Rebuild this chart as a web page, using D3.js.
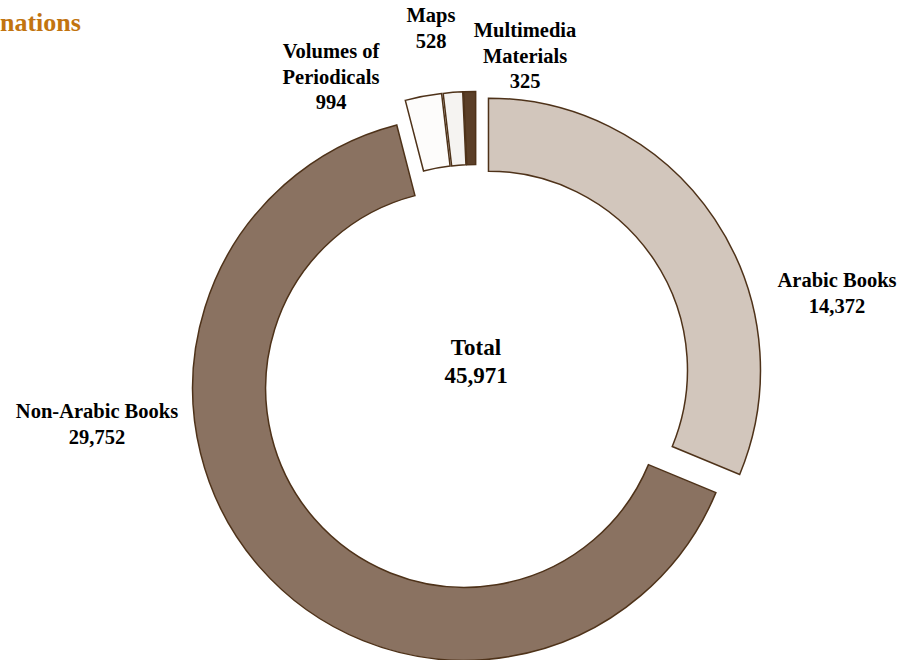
<!DOCTYPE html>
<html>
<head>
<meta charset="utf-8">
<script src="https://cdn.jsdelivr.net/npm/d3@7"></script>
<style>
  body { margin: 0; background: #fff; }
  text { font-family: "Liberation Serif", "Times New Roman", serif; font-weight: bold; }
</style>
</head>
<body>
<script>
// data
var categories = ["Arabic Books", "Non-Arabic Books", "Volumes of Periodicals", "Maps", "Multimedia Materials"];
var values = [14372, 29752, 994, 528, 325];
var labelLines = [["Arabic Books"], ["Non-Arabic Books"], ["Volumes of", "Periodicals"], ["Maps"], ["Multimedia", "Materials"]];
var colors = ["#d2c6bc", "#8a7261", "#fdfcfb", "#f5f3f1", "#5b3f28"];

// layout
var width = 904, height = 660,
    cx = 476, cy = 378.5,
    outerR = 272, innerR = 199,
    explode = 15;

// label anchor (center x, first baseline) for each slice
var labelPos = [[837, 287], [97, 418], [331, 58], [431, 22], [525, 37]];
var lineH = 25.5;

var fmt = d3.format(",");

var svg = d3.select("body").append("svg")
    .attr("width", width)
    .attr("height", height);

// title (only its tail is visible in the original)
svg.append("text")
    .attr("x", 0)
    .attr("y", 31)
    .attr("text-anchor", "start")
    .style("font-size", "26px")
    .style("fill", "#c2740f")
    .text("nations");

var pie = d3.pie().sort(null).value(function(d) { return d; })
    .startAngle(0).endAngle(2 * Math.PI);

var arc = d3.arc().innerRadius(innerR).outerRadius(outerR);

var g = svg.append("g")
    .attr("transform", "translate(" + cx + "," + cy + ")");

var arcs = pie(values);

g.selectAll("path.slice")
    .data(arcs)
  .enter().append("path")
    .attr("class", "slice")
    .attr("d", arc)
    .attr("transform", function(d) {
      var a = (d.startAngle + d.endAngle) / 2;
      return "translate(" + (Math.sin(a) * explode) + "," + (-Math.cos(a) * explode) + ")";
    })
    .style("fill", function(d, i) { return colors[i]; })
    .style("stroke", "#4e3219")
    .style("stroke-width", 1.5)
    .style("stroke-linejoin", "miter");

// slice labels
var labels = svg.selectAll("text.lbl")
    .data(arcs)
  .enter().append("text")
    .attr("class", "lbl")
    .attr("text-anchor", "middle")
    .style("font-size", "20.5px")
    .style("fill", "#000");

labels.each(function(d, i) {
  var t = d3.select(this);
  var lines = labelLines[i].concat([fmt(d.value)]);
  lines.forEach(function(s, j) {
    t.append("tspan")
      .attr("x", labelPos[i][0])
      .attr("y", labelPos[i][1] + j * lineH)
      .text(s);
  });
});

// total in the middle
var total = d3.sum(values);
svg.append("text")
    .attr("x", cx)
    .attr("y", 355)
    .attr("text-anchor", "middle")
    .style("font-size", "23px")
    .text("Total");
svg.append("text")
    .attr("x", cx)
    .attr("y", 383)
    .attr("text-anchor", "middle")
    .style("font-size", "23px")
    .text(fmt(total));
</script>
</body>
</html>
